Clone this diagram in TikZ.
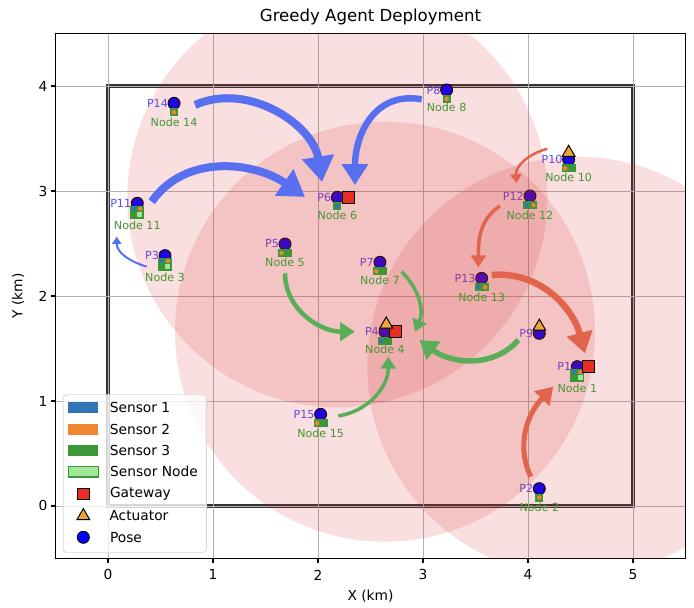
\documentclass[tikz,border=0pt]{standalone}
\usepackage{fontspec}
\setmainfont{DejaVu Sans}
\usetikzlibrary{arrows.meta,shapes.geometric,positioning}

\definecolor{sensA}{RGB}{50,118,182}
\definecolor{sensB}{RGB}{242,133,48}
\definecolor{sensC}{RGB}{60,152,55}
\definecolor{sensnode}{RGB}{160,232,150}
\definecolor{gwred}{RGB}{232,45,35}
\definecolor{actorange}{RGB}{240,163,55}
\definecolor{zonered}{RGB}{214,39,40}
\definecolor{mvblue}{RGB}{88,112,240}
\definecolor{mvred}{RGB}{226,100,76}
\definecolor{mvgreen}{RGB}{90,174,90}
\definecolor{nodetxt}{RGB}{70,150,50}
\definecolor{posetxt}{RGB}{80,80,250}

\tikzset{
  pics/onebox/.style={code={
    \fill[sensC] (-2.85pt,-9.25pt) rectangle (2.85pt,-3.55pt);
    \path[fill=#1] (0,-6.4pt) circle[radius=1.6pt];
  }},
  pics/twobox/.style 2 args={code={
    \fill[sensC] (-5pt,-9.25pt) rectangle (5pt,-3.55pt);
    \path[fill=#1] (-2.5pt,-6.4pt) circle[radius=1.6pt];
    \path[fill=#2] (2.5pt,-6.4pt) circle[radius=1.6pt];
  }},
  pics/fourbox/.style={code={
    \fill[sensC] (-5pt,-11.05pt) rectangle (5pt,-1.75pt);
    \fill[sensA] (-2.5pt,-3.9pt) circle[radius=1.6pt];
    \fill[sensB] (2.1pt,-3.9pt) circle[radius=1.6pt];
    \filldraw[fill=sensnode,draw=sensC,line width=0.5pt] (-0.35pt,-9.95pt) rectangle (3.95pt,-5.65pt);
  }},
}

\begin{document}
\begin{tikzpicture}[x=2.625cm,y=2.625cm,
    pose/.style={circle,draw=black,line width=0.7pt,fill=blue,minimum size=8.5pt,inner sep=0pt},
    gateway/.style={rectangle,draw=black,line width=0.7pt,fill=gwred,minimum size=8.5pt,inner sep=0pt},
    actuator/.style={regular polygon,regular polygon sides=3,draw=black,line width=0.7pt,fill=actorange,minimum size=10.5pt,inner sep=0pt},
    ptag/.style={anchor=east,xshift=-4.2pt,text=posetxt,font=\fontsize{7.9}{9}\selectfont,inner sep=0pt},
    ntag/.style={text=nodetxt,font=\fontsize{7.9}{9}\selectfont,inner sep=0pt},
    zone/.style={fill=zonered,fill opacity=0.15},
    relocate/.style={line width=#1,-{Triangle[length=1pt 3,width=1.5pt 3.6]}},
    swatch/.style={rectangle,minimum width=21.3pt,minimum height=7.6pt,inner sep=0pt},
    legtext/.style={inner sep=0pt,font=\fontsize{9.8}{12}\selectfont},
    ticklabel/.style={inner sep=0pt,font=\fontsize{9.8}{12}\selectfont},
  ]
  \useasboundingbox (-1.0286,-0.9714) rectangle (5.581,4.819);

  \draw[line width=2.2pt,black!80] (0,0) rectangle (5,4);
  \draw[black!30,line width=0.55pt,step=1] (-0.5,-0.5) grid (5.5,4.5);
  \draw[line width=0.75pt] (-0.5,-0.5) rectangle (5.5,4.5);
  \foreach \t in {0,...,5} {
    \draw[line width=0.75pt] (\t,-0.5) -- ++(0,-3.5pt);
    \path (\t,-0.657) node[ticklabel] (xt\t) {\t};
  }
  \foreach \t in {0,...,4} {
    \draw[line width=0.75pt] (-0.5,\t) -- ++(-3.5pt,0);
    \path (-0.575,\t) node[ticklabel,anchor=east] (yt\t) {\t};
  }
  \path (2.5,4.657) node[font=\fontsize{11.8}{14}\selectfont] (title) {Greedy Agent Deployment};
  \path (2.5,-0.857) node[legtext] (xlab) {X (km)};
  \path (-0.857,2) node[legtext,rotate=90] (ylab) {Y (km)};

  \path (4.470,1.327) node[ptag] (t1) {P1} node[pose] (p1) {};
  \path (4.108,0.165) node[ptag] (t2) {P2} node[pose] (p2) {};
  \path (0.543,2.384) node[ptag] (t3) {P3} node[pose] (p3) {};
  \path (2.638,1.660) node[ptag] (t4) {P4} node[pose] (p4) {};
  \path (1.686,2.495) node[ptag] (t5) {P5} node[pose] (p5) {};
  \path (2.184,2.940) node[ptag] (t6) {P6} node[pose] (p6) {};
  \path (2.590,2.321) node[ptag] (t7) {P7} node[pose] (p7) {};
  \path (3.225,3.962) node[ptag] (t8) {P8} node[pose] (p8) {};
  \path (4.108,1.644) node[ptag] (t9) {P9} node[pose] (p9) {};
  \path (4.387,3.300) node[ptag] (t10) {P10} node[pose] (p10) {};
  \path (0.279,2.883) node[ptag] (t11) {P11} node[pose] (p11) {};
  \path (4.019,2.952) node[ptag] (t12) {P12} node[pose] (p12) {};
  \path (3.559,2.168) node[ptag] (t13) {P13} node[pose] (p13) {};
  \path (0.629,3.835) node[ptag] (t14) {P14} node[pose] (p14) {};
  \path (2.025,0.873) node[ptag] (t15) {P15} node[pose] (p15) {};

  \begin{scope}
    \clip (-0.5,-0.5) rectangle (5.5,4.5);
    \fill[zone] (p6) circle[radius=2];
    \fill[zone] (p4) circle[radius=2];
    \fill[zone] (p1) circle[radius=2];
  \end{scope}

  \pic at (p1) {fourbox};
  \path (p1) ++(0.102,0) node[gateway] (g1) {};
  \path (p1) ++(0,-0.205) node[ntag] (n1) {Node 1};

  \pic at (p2) {onebox=sensB};
  \path (p2) ++(0,-0.176) node[ntag] (n2) {Node 2};

  \pic at (p3) {fourbox};
  \path (p3) ++(0,-0.205) node[ntag] (n3) {Node 3};

  \pic at (p4) {twobox={sensA}{none}};
  \path (p4) ++(0.102,0) node[gateway] (g4) {};
  \path (p4) ++(0.012,0.07) node[actuator] (a4) {};
  \path (p4) ++(0,-0.17) node[ntag] (n4) {Node 4};

  \pic at (p5) {twobox={sensB}{none}};
  \path (p5) ++(0,-0.178) node[ntag] (n5) {Node 5};

  \pic at (p6) {onebox=sensA};
  \path (p6) ++(0.102,0) node[gateway] (g6) {};
  \path (p6) ++(0,-0.172) node[ntag] (n6) {Node 6};

  \pic at (p7) {twobox={sensB}{none}};
  \path (p7) ++(0,-0.176) node[ntag] (n7) {Node 7};

  \pic at (p8) {onebox=sensB};
  \path (p8) ++(0,-0.170) node[ntag] (n8) {Node 8};

  \path (p9) ++(0,0.065) node[actuator] (a9) {};

  \pic at (p10) {twobox={sensB}{none}};
  \path (p10) ++(0,0.065) node[actuator] (a10) {};
  \path (p10) ++(0,-0.172) node[ntag] (n10) {Node 10};

  \pic at (p11) {fourbox};
  \path (p11) ++(0,-0.210) node[ntag] (n11) {Node 11};

  \pic at (p12) {twobox={sensA}{sensB}};
  \path (p12) ++(0,-0.181) node[ntag] (n12) {Node 12};

  \pic at (p13) {twobox={sensA}{sensB}};
  \path (p13) ++(0,-0.181) node[ntag] (n13) {Node 13};

  \pic at (p14) {onebox=sensB};
  \path (p14) ++(0,-0.178) node[ntag] (n14) {Node 14};

  \pic at (p15) {twobox={sensB}{none}};
  \path (p15) ++(0,-0.181) node[ntag] (n15) {Node 15};

  \draw[relocate=5.7pt,mvblue] ([shift={(0.20,-0.016)}]p14.center) to[out=24,in=99] ([shift={(-0.146,0.146)}]p6.center);
  \draw[relocate=5.7pt,mvblue] ([shift={(0.137,0.015)}]p11.center) to[out=55,in=145] ([shift={(-0.308,0.003)}]p6.center);
  \draw[relocate=4.6pt,mvblue] ([shift={(-0.237,-0.089)}]p8.center) to[out=170,in=90,looseness=1.15] ([shift={(0.168,0.117)}]p6.center);
  \draw[relocate=1.4pt,mvblue] ([shift={(-0.174,-0.105)}]p3.center) to[out=163,in=270] ([shift={(-0.196,-0.318)}]p11.center);

  \draw[relocate=1.8pt,mvred] ([shift={(-0.203,0.102)}]p10.center) to[out=195,in=95] ([shift={(-0.127,0.121)}]p12.center);
  \draw[relocate=2.5pt,mvred] ([shift={(-0.286,-0.095)}]p12.center) to[out=213,in=90] ([shift={(-0.032,0.105)}]p13.center);
  \draw[relocate=4.6pt,mvred] ([shift={(0.095,0.032)}]p13.center) to[out=5,in=105] ([shift={(0.073,0.127)}]p1.center);
  \draw[relocate=3.6pt,mvred] ([shift={(-0.082,0.114)}]p2.center) to[out=115,in=226] ([shift={(-0.229,-0.191)}]p1.center);

  \draw[relocate=3.2pt,mvgreen] ([shift={(0,-0.279)}]p5.center) to[out=270,in=180] ([shift={(-0.286,0)}]p4.center);
  \draw[relocate=2.5pt,mvgreen] ([shift={(0.207,-0.09)}]p7.center) to[out=315,in=67] ([shift={(0.286,0)}]p4.center);
  \draw[relocate=3.9pt,mvgreen] ([shift={(-0.2,-0.063)}]p9.center) to[out=229,in=323] ([shift={(0.327,-0.079)}]p4.center);
  \draw[relocate=2.5pt,mvgreen] ([shift={(0.168,-0.016)}]p15.center) to[out=9,in=270] ([shift={(0.032,-0.238)}]p4.center);

  \draw[fill=white,fill opacity=0.8,draw=black!15,line width=0.6pt,rounded corners=2.5pt] (-0.426,-0.445) rectangle (0.937,1.060);
  \path (-0.235,0.936) node[swatch,fill=sensA] (l1) {};
  \path node[legtext,right=7.8pt of l1] (lt1) {Sensor 1};
  \path (-0.235,0.730) node[swatch,fill=sensB] (l2) {};
  \path node[legtext,right=7.8pt of l2] (lt2) {Sensor 2};
  \path (-0.235,0.527) node[swatch,fill=sensC] (l3) {};
  \path node[legtext,right=7.8pt of l3] (lt3) {Sensor 3};
  \path (-0.235,0.327) node[swatch,fill=sensnode,draw=sensC,line width=1pt] (l4) {};
  \path node[legtext,right=7.8pt of l4] (lt4) {Sensor Node};
  \path (-0.235,0.114) node[gateway] (l5) {};
  \path node[legtext,right=14.2pt of l5] (lt5) {Gateway};
  \path (-0.235,-0.095) node[actuator] (l6) {};
  \path node[legtext,anchor=west] at (0.012,-0.095) (lt6) {Actuator};
  \path (-0.235,-0.298) node[pose] (l7) {};
  \path node[legtext,right=14.2pt of l7] (lt7) {Pose};
\end{tikzpicture}
\end{document}
